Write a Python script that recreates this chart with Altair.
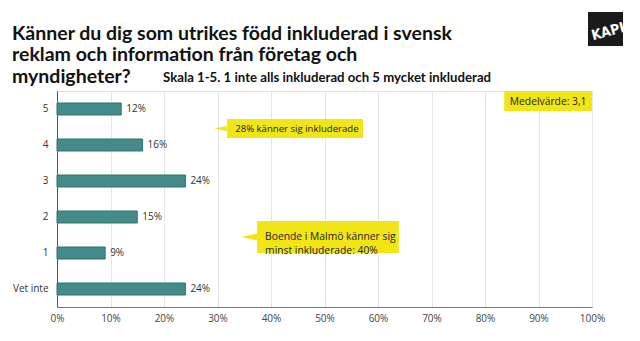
import altair as alt
import pandas as pd

# ---- data ----
categories = ["5", "4", "3", "2", "1", "Vet inte"]
values = [12, 16, 24, 15, 9, 24]
x_ticks = [0, 10, 20, 30, 40, 50, 60, 70, 80, 90, 100]

title_lines = [
    "Känner du dig som utrikes född inkluderad i svensk",
    "reklam och information från företag och",
    "myndigheter?",
]
subtitle = "Skala 1-5. 1 inte alls inkluderad och 5 mycket inkluderad"

callout_texts = ["28% känner sig inkluderade", "Boende i Malmö känner sig\nminst inkluderade: 40%", "Medelvärde: 3,1"]
callout_x0 = [31.8, 37.4, 83.6]
callout_x1 = [57.2, 63.9, 100]
callout_text_x = [33.3, 38.9, 91.8]
pointer_x = [30.6, 35.9]
logo_text = "KAPI"

# ---- styling constants ----
W, H = 535, 216
BAR = "#438C89"
YELLOW = "#F2E515"
FONT = "Open Sans"
TFONT = "Lato"

df = pd.DataFrame({"cat": categories, "val": values})

xscale = alt.Scale(domain=[0, 100], nice=False)
yscale = alt.Scale(domain=categories, paddingInner=0.667, paddingOuter=0.333)

base = alt.Chart(df)

bars = base.mark_bar(color=BAR, stroke="#2F716E", strokeWidth=1).encode(
    x=alt.X("val:Q", scale=xscale,
            axis=alt.Axis(values=x_ticks, labelExpr="datum.value + '%'", title=None,
                          grid=True, gridColor="#E4E4E4", ticks=False, domainColor="#777",
                          labelColor="#444", labelFontSize=10, labelFont=FONT, labelPadding=6,
                          labelFlush=False, labelOverlap=False)),
    y=alt.Y("cat:N", scale=yscale, sort=categories,
            axis=alt.Axis(title=None, ticks=False, domainColor="#555", labelColor="#333",
                          labelFontSize=10, labelFont=FONT, labelPadding=9)),
)

labels = base.mark_text(align="left", baseline="middle", dx=5, fontSize=10, font=FONT, color="#333").encode(
    x=alt.X("val:Q", scale=xscale),
    y=alt.Y("cat:N", scale=yscale, sort=categories),
    text=alt.Text("label:N"),
).transform_calculate(label="datum.val + '%'")

# callouts
cdf = pd.DataFrame({
    "x0": callout_x0, "x1": callout_x1, "tx": callout_text_x, "t": callout_texts,
})
box_y0 = [28, 130, 0]
box_y1 = [47, 162, 20]
text_y = [37.5, 146, 10.5]
text_size = [9.6, 10.3, 10.3]
layers = []
for i in range(3):
    d = cdf.iloc[[i]]
    layers.append(alt.Chart(d).mark_rect(color=YELLOW).encode(
        x=alt.X("x0:Q", scale=xscale), x2="x1:Q",
        y=alt.value(box_y0[i]), y2=alt.value(box_y1[i])))
    layers.append(alt.Chart(d).mark_text(
        align="center" if i == 2 else "left", baseline="middle", fontSize=text_size[i], font=FONT,
        color="#222", lineBreak="\n", lineHeight=14).encode(
        x=alt.X("tx:Q", scale=xscale), y=alt.value(text_y[i]), text="t:N"))

pdf = pd.DataFrame({"px": pointer_x})
pointer_y = [37.5, 146]
pointer_size = [144, 256]
for i in range(2):
    layers.append(alt.Chart(pdf.iloc[[i]]).mark_point(
        shape="M -1 0 L 1 -0.45 L 1 0.45 Z", filled=True, color=YELLOW, opacity=1,
        size=pointer_size[i]).encode(
        x=alt.X("px:Q", scale=xscale), y=alt.value(pointer_y[i])))

# title lines
title_y = [-51, -30, -8]
for i, line in enumerate(title_lines):
    layers.append(alt.Chart(pd.DataFrame({"t": [line]})).mark_text(
        align="left", baseline="alphabetic", fontSize=19.5, font=TFONT, fontWeight="bold",
        color="#111").encode(x=alt.value(-45), y=alt.value(title_y[i]), text="t:N"))

layers.append(alt.Chart(pd.DataFrame({"t": [subtitle]})).mark_text(
    align="left", baseline="alphabetic", fontSize=13.2, font=TFONT, fontWeight="bold",
    color="#111").encode(x=alt.value(106), y=alt.value(-9), text="t:N"))

# logo
logo_df = pd.DataFrame({"t": [logo_text]})
layers.append(alt.Chart(logo_df).mark_rect(color="#1A1A1A").encode(
    x=alt.value(531), x2=alt.value(566), y=alt.value(-79), y2=alt.value(-45)))
layers.append(alt.Chart(logo_df).mark_text(
    align="center", baseline="middle", fontSize=14, font="DejaVu Sans Condensed", fontWeight="bold",
    color="white", angle=345).encode(x=alt.value(551), y=alt.value(-59), text="t:N"))
# white mask to crop the logo text at the square's right edge
layers.append(alt.Chart(logo_df).mark_rect(color="white").encode(
    x=alt.value(566), x2=alt.value(585), y=alt.value(-82), y2=alt.value(-42)))

chart = alt.layer(bars, labels, *layers).properties(
    width=W, height=H,
    padding={"left": 57, "top": 91, "right": 48, "bottom": 34},
    autosize=alt.AutoSizeParams(type="none"),
).configure_view(stroke="#999", strokeWidth=1).configure(background="white")

chart.save("out.html", embed_options={"renderer": "svg", "actions": False})
